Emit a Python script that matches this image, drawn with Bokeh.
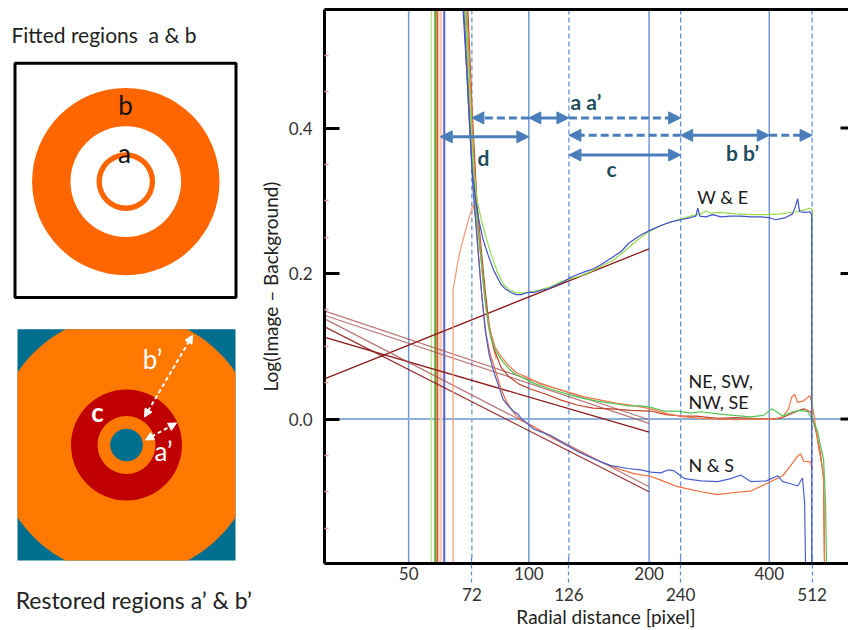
import numpy as np
from bokeh.plotting import figure
from bokeh.layouts import row
from bokeh.models import (Range1d, LogAxis, LinearAxis, FixedTicker, PrintfTickFormatter, Span, Arrow,
                          NormalHead)
from bokeh.core.properties import value
from bokeh.embed import file_html
from bokeh.resources import INLINE

FONT = "Lato"

# ---------------- axis data ----------------
x_ticks_upper = [50, 100, 200, 400]
x_ticks_lower = [72, 126, 240, 512]
y_ticks = [0.0, 0.2, 0.4]
y_minor = [-0.15, -0.1, -0.05, 0.05, 0.1, 0.15, 0.25, 0.3, 0.35, 0.45, 0.5]
solid_bounds = [50, 100, 200, 400]
dashed_bounds = [72, 126, 240, 512]
X_START, X_END = 30.78, 631.6
Y_START, Y_END = -0.1986, 0.563

# ---------------- profiles: (radial distance [pixel], Log(Image - Background)) ----------------
we_blue = [(68.1, 0.582), (70.1, 0.466), (72.1, 0.342), (73.8, 0.295), (75.1, 0.271), (76.8, 0.247),
           (79.0, 0.226), (81.7, 0.204), (85.2, 0.185), (87.7, 0.178), (90.3, 0.174), (92.9, 0.171),
           (95.6, 0.171), (99.5, 0.174), (103.0, 0.174), (107.3, 0.177), (111.8, 0.179), (117.0, 0.184),
           (122.5, 0.189), (127.5, 0.195), (132.8, 0.199), (139.0, 0.203), (145.6, 0.207), (151.5, 0.212),
           (160.5, 0.221), (170.0, 0.230), (178.1, 0.242), (190.8, 0.253), (202.1, 0.260), (214.1, 0.266),
           (226.8, 0.271), (240.2, 0.274), (254.4, 0.277), (261.9, 0.279), (264.9, 0.290), (268.0, 0.279),
           (277.4, 0.278), (288.8, 0.281), (302.4, 0.278), (320.3, 0.279), (339.3, 0.279), (359.4, 0.278),
           (380.7, 0.278), (398.4, 0.277), (415.0, 0.274), (439.6, 0.277), (457.6, 0.282), (465.6, 0.293),
           (471.1, 0.303), (476.5, 0.285), (493.2, 0.284), (504.7, 0.285), (511.0, 0.281), (511.0, -0.205)]
we_green = [(68.9, 0.582), (70.9, 0.466), (72.5, 0.349), (74.2, 0.301), (76.0, 0.274), (78.2, 0.249),
            (80.5, 0.226), (83.3, 0.203), (86.2, 0.186), (89.2, 0.178), (92.4, 0.174), (95.6, 0.173),
            (101.3, 0.175), (107.3, 0.178), (113.7, 0.182), (120.4, 0.189), (127.5, 0.193), (135.1, 0.197),
            (143.1, 0.203), (151.5, 0.210), (162.4, 0.218), (172.0, 0.229), (182.2, 0.241), (196.4, 0.255),
            (214.1, 0.266), (233.4, 0.273), (254.4, 0.279), (269.5, 0.282), (278.0, 0.286), (285.5, 0.283),
            (302.4, 0.284), (329.7, 0.282), (359.4, 0.281), (391.8, 0.281), (427.1, 0.282), (465.6, 0.285),
            (493.2, 0.288), (504.7, 0.290), (512.0, 0.288), (512.0, 0.0)]
ne_green = [(69.3, 0.582), (71.3, 0.438), (73.4, 0.301), (75.1, 0.247), (76.4, 0.205), (77.7, 0.164),
            (79.1, 0.130), (80.5, 0.110), (82.8, 0.093), (85.2, 0.082), (88.8, 0.070), (91.8, 0.063),
            (95.6, 0.058), (103.0, 0.049), (113.7, 0.041), (125.3, 0.034), (135.1, 0.029), (147.3, 0.025),
            (160.5, 0.022), (177.0, 0.018), (190.8, 0.018), (202.1, 0.016), (217.8, 0.011), (236.0, 0.011),
            (254.4, 0.008), (269.5, 0.010), (297.2, 0.007), (325.9, 0.005), (359.4, 0.003), (387.3, 0.005),
            (405.6, 0.014), (417.4, 0.010), (432.0, 0.004), (458.1, 0.010), (479.2, 0.012), (499.1, 0.010),
            (511.5, 0.000), (527.7, -0.016), (537.7, -0.037), (547.0, -0.055), (553.4, -0.116), (556.6, -0.205)]
ne_orange = [(69.7, 0.582), (71.7, 0.438), (73.8, 0.295), (75.5, 0.240), (76.8, 0.192), (78.2, 0.151),
             (80.0, 0.121), (82.3, 0.099), (85.2, 0.086), (88.8, 0.074), (92.9, 0.064), (98.4, 0.058),
             (107.3, 0.048), (117.0, 0.042), (127.5, 0.036), (139.0, 0.030), (151.5, 0.026), (165.2, 0.022),
             (180.1, 0.019), (202.1, 0.014), (222.9, 0.007), (244.4, 0.003), (269.5, 0.001), (297.2, 0.000),
             (329.7, -0.001), (359.4, 0.000), (412.6, 0.000), (432.0, 0.003), (447.2, 0.014), (455.1, 0.030),
             (463.0, 0.034), (471.1, 0.023), (487.6, 0.025), (504.7, 0.032), (511.5, 0.023), (519.4, 0.000),
             (530.7, -0.037), (543.9, -0.068), (547.0, -0.082), (550.2, -0.205)]
ne_red = [(70.1, 0.582), (72.1, 0.425), (74.2, 0.295), (76.0, 0.233), (77.7, 0.178), (79.5, 0.130),
          (81.8, 0.096), (85.2, 0.071), (89.2, 0.058), (94.5, 0.048), (101.3, 0.041), (110.4, 0.034),
          (120.4, 0.026), (132.7, 0.019), (144.8, 0.015), (160.5, 0.014), (180.1, 0.012), (202.1, 0.011),
          (220.0, 0.006), (244.4, 0.004), (262.0, 0.004), (297.2, 0.001), (330.0, 0.002), (359.4, 0.001),
          (395.0, 0.000), (427.1, 0.001), (471.1, 0.011), (487.6, 0.014), (507.6, 0.010), (522.4, -0.014),
          (537.7, -0.048), (547.0, -0.082), (550.2, -0.205)]
ns_blue = [(68.5, 0.582), (70.5, 0.438), (72.5, 0.315), (74.2, 0.247), (76.0, 0.178), (77.7, 0.123),
           (79.5, 0.089), (81.8, 0.064), (83.7, 0.048), (86.2, 0.027), (88.8, 0.018), (91.3, 0.011),
           (93.9, 0.007), (95.6, 0.001), (99.5, -0.007), (103.0, -0.014), (113.7, -0.023), (125.3, -0.037),
           (132.8, -0.045), (145.6, -0.055), (160.5, -0.064), (177.0, -0.068), (190.8, -0.070), (202.1, -0.073),
           (214.1, -0.074), (222.9, -0.070), (230.6, -0.071), (245.7, -0.082), (269.5, -0.085), (297.2, -0.086),
           (320.3, -0.082), (339.3, -0.077), (359.4, -0.086), (393.5, -0.085), (419.8, -0.078), (432.0, -0.086),
           (452.4, -0.089), (471.1, -0.092), (484.5, -0.081), (490.4, -0.116), (493.2, -0.205)]
ns_orange = [(68.9, 0.582), (70.9, 0.438), (73.0, 0.301), (74.6, 0.233), (76.4, 0.164), (78.2, 0.116),
             (80.0, 0.089), (81.8, 0.073), (85.2, 0.041), (87.7, 0.025), (90.3, 0.014), (92.9, 0.005),
             (95.6, -0.001), (103.0, -0.011), (113.7, -0.025), (125.3, -0.037), (139.0, -0.049), (151.5, -0.059),
             (166.7, -0.068), (183.3, -0.075), (202.1, -0.079), (214.1, -0.084), (235.9, -0.093), (269.5, -0.100),
             (297.2, -0.104), (325.9, -0.101), (359.4, -0.099), (393.5, -0.089), (432.0, -0.078), (452.4, -0.064),
             (471.1, -0.051), (479.2, -0.048), (487.6, -0.058), (507.6, -0.059), (511.5, -0.068)]
salmon_peak = [(64.6, -0.205), (64.6, 0.178), (66.9, 0.226), (69.7, 0.263), (72.5, 0.295), (74.2, 0.267),
               (76.0, 0.216), (77.7, 0.164), (79.5, 0.123), (82.8, 0.082)]

# off-scale profiles near the centre (vertical traces)
spike_r = [57.0, 58.3, 59.0, 60.2, 61.4]
spike_y = [-0.25, 0.62]

# power-law fits (straight in log r), from r = 31 to r = 200
fit_r = [31, 200]
fit_rise = [0.056, 0.234]
fit_ne1 = [0.148, -0.001]
fit_ne2 = [0.142, -0.006]
fit_ne3 = [0.112, -0.018]
fit_ns1 = [0.137, -0.093]
fit_ns2 = [0.126, -0.100]

# region arrows: start r, end r, level, dashed, double-headed
arrow_r0 = [60, 100, 100, 126, 240, 240, 400, 126]
arrow_r1 = [100, 72, 126, 240, 126, 400, 512, 240]
arrow_y = [0.388, 0.414, 0.414, 0.414, 0.390, 0.390, 0.390, 0.363]
arrow_dashed = [False, True, False, True, True, False, True, False]
arrow_both = [True, False, True, False, False, True, False, True]
region_text = ["d", "a a\u2019", "c", "b b\u2019"]
region_r = [77, 139, 161, 343]
region_y = [0.360, 0.437, 0.345, 0.366]

curve_text = ["W & E", "NE, SW,", "NW, SE", "N & S"]
curve_r = [306, 251, 251, 251]
curve_y = [0.305, 0.052, 0.023, -0.063]

# ---------------- schematic (left), in page pixels ----------------
fitted_box = dict(x=125, y=180.5, w=221, h=235)
fitted_center = (125.3, 181.7)
fitted_inner = [24.0, 55.3]
fitted_outer = [29.3, 93.7]
restored_box = dict(x=126, y=446, w=218, h=232)
restored_center = (126, 446)
restored_outer_r = 131
restored_radii = [55.5, 29, 16.3]
restored_colors = ["#C00000", "#FF7800", "#006E8E"]

LEFT_W = 255
TOP_B, BOTTOM_B = 9, 65
H = 630

# ================= left figure =================
left = figure(width=LEFT_W, height=H, x_range=Range1d(0, LEFT_W), y_range=Range1d(H - BOTTOM_B, TOP_B),
              toolbar_location=None, output_backend="svg", title=None,
              min_border_left=0, min_border_right=0, min_border_top=TOP_B, min_border_bottom=BOTTOM_B,
              x_axis_location=None, y_axis_location=None)
left.grid.visible = False
left.outline_line_color = None

left.text(x=[11], y=[34], text=["Fitted regions\u00a0 a & b"], text_font=value(FONT),
          text_font_size="21px", text_color="#222222", text_baseline="middle")
left.rect(x=[fitted_box["x"]], y=[fitted_box["y"]], width=[fitted_box["w"]], height=[fitted_box["h"]],
          fill_color=None, line_color="black", line_width=3)
left.annulus(x=[fitted_center[0]] * 2, y=[fitted_center[1]] * 2, inner_radius=fitted_inner,
             outer_radius=fitted_outer, fill_color="#FF6600", line_color=None)
left.text(x=[125, 124], y=[105, 153], text=["b", "a"], text_font=value(FONT), text_font_size="26px",
          text_color="#111111", text_align="center", text_baseline="middle")

bx0 = restored_box["x"] - restored_box["w"] / 2
bx1 = restored_box["x"] + restored_box["w"] / 2
by0 = restored_box["y"] - restored_box["h"] / 2
by1 = restored_box["y"] + restored_box["h"] / 2
left.rect(x=[restored_box["x"]], y=[restored_box["y"]], width=[restored_box["w"]],
          height=[restored_box["h"]], fill_color="#006E8E", line_color=None)
# large disc limited to the square (outline of disc clamped to the box)
t = np.linspace(0, 2 * np.pi, 721)
disc_x = np.clip(restored_center[0] + restored_outer_r * np.cos(t), bx0, bx1)
disc_y = np.clip(restored_center[1] + restored_outer_r * np.sin(t), by0, by1)
left.patch(disc_x, disc_y, fill_color="#FF7800", line_color=None)
left.circle(x=[restored_center[0]] * 3, y=[restored_center[1]] * 3, radius=restored_radii,
            fill_color=restored_colors, line_color=None)
for (xs, ys, xe, ye) in [(144, 418, 192, 336), (145, 441, 176, 424)]:
    left.add_layout(Arrow(start=NormalHead(size=8, fill_color="white", line_color="white"),
                          end=NormalHead(size=8, fill_color="white", line_color="white"),
                          x_start=xs, y_start=ys, x_end=xe, y_end=ye,
                          line_color="white", line_width=2, line_dash="4 3"))
left.text(x=[152, 163], y=[360, 452], text=["b\u2019", "a\u2019"], text_font=value(FONT),
          text_font_size="26px", text_color="white", text_align="center", text_baseline="middle")
left.text(x=[97], y=[413], text=["c"], text_font=value(FONT), text_font_size="26px",
          text_font_style="bold", text_color="white", text_align="center", text_baseline="middle")
caption_ax = LinearAxis(ticker=FixedTicker(ticks=[]), axis_line_color=None, major_tick_in=0,
                        major_tick_out=0, minor_tick_in=0, minor_tick_out=0, major_label_standoff=0,
                        axis_label="\u00a0\u00a0Restored regions a\u2019 & b\u2019", axis_label_standoff=22,
                        axis_label_text_font=FONT, axis_label_text_font_size="23px",
                        axis_label_text_font_style="normal", axis_label_text_color="#222222")
left.add_layout(caption_ax, "below")

# ================= right figure =================
p = figure(width=848 - LEFT_W, height=H, x_axis_type="log",
           x_range=Range1d(X_START, X_END), y_range=Range1d(Y_START, Y_END),
           toolbar_location=None, output_backend="svg", title=None,
           min_border_left=68, min_border_right=0, min_border_top=TOP_B, min_border_bottom=BOTTOM_B)
p.grid.visible = False
p.outline_line_color = None

for v in solid_bounds:
    p.add_layout(Span(location=v, dimension="height", line_color="#7199d4", line_width=1.5,
                      level="underlay"))
for v in dashed_bounds:
    p.add_layout(Span(location=v, dimension="height", line_color="#5b8bd4", line_width=1.2,
                      line_dash="5 3", level="underlay"))
p.add_layout(Span(location=0, dimension="width", line_color="#8fb0de", line_width=2, level="underlay"))

spike_colors = ["#bde48f", "#5aa832", "#d9602a", "#f8cbbd", "#5563cc"]
spike_widths = [1.5, 2, 2, 3, 2]
for r, c, w in zip(spike_r, spike_colors, spike_widths):
    p.line([r, r], spike_y, line_color=c, line_width=w)

fit_styles = [(fit_rise, "#8b1a1a", 1.3, 1.0), (fit_ne1, "#a85555", 1.2, 0.8),
              (fit_ne2, "#a85555", 1.2, 0.8), (fit_ne3, "#8b1a1a", 1.4, 1.0),
              (fit_ns1, "#a85555", 1.2, 0.8), (fit_ns2, "#8b1a1a", 1.2, 0.9)]
for ys, c, w, a in fit_styles:
    p.line(fit_r, ys, line_color=c, line_width=w, line_alpha=a)

curves = [(salmon_peak, "#f4a07e", 1.3), (ns_orange, "#f06a3c", 1.2), (ns_blue, "#4a5fcf", 1.2),
          (ne_red, "#c0442a", 1.2), (ne_orange, "#f27a4a", 1.2), (ne_green, "#54c454", 1.2),
          (we_green, "#96dc4e", 1.2), (we_blue, "#4150cc", 1.2)]
for pts, c, w in curves:
    p.line([q[0] for q in pts], [q[1] for q in pts], line_color=c, line_width=w)

ARROW_C = "#4a7ebb"
for r0, r1, y, dashed, both in zip(arrow_r0, arrow_r1, arrow_y, arrow_dashed, arrow_both):
    p.add_layout(Arrow(start=NormalHead(size=12, fill_color=ARROW_C, line_color=ARROW_C) if both else None,
                       end=NormalHead(size=12, fill_color=ARROW_C, line_color=ARROW_C),
                       x_start=r0, y_start=y, x_end=r1, y_end=y, line_color=ARROW_C,
                       line_width=3, line_dash="8 4" if dashed else "solid"))
p.text(x=region_r, y=region_y, text=region_text, text_font=value(FONT), text_font_size="21px",
       text_font_style="bold", text_color="#1f4e5f", text_align="center", text_baseline="middle")
p.text(x=curve_r[:1], y=curve_y[:1], text=curve_text[:1], text_font=value(FONT), text_font_size="18px",
       text_color="#1a1a1a", text_align="center", text_baseline="middle")
p.text(x=curve_r[1:], y=curve_y[1:], text=curve_text[1:], text_font=value(FONT), text_font_size="18px",
       text_color="#1a1a1a", text_align="left", text_baseline="middle")

# right-hand tick marks (frame edge cuts them in half)
p.scatter(x=[X_END] * len(y_ticks), y=y_ticks, marker="dash", size=16, line_color="black", line_width=3)

# axes
ax1 = p.xaxis[0]
ax1.ticker = FixedTicker(ticks=x_ticks_upper)
ax1.formatter = PrintfTickFormatter(format="%d")
ax1.axis_line_width = 3
ax1.axis_line_color = "black"
ax1.major_tick_in = 0
ax1.major_tick_out = 0
ax1.minor_tick_in = 0
ax1.minor_tick_out = 0
ax1.major_label_standoff = 3
ax1.major_label_text_font = FONT
ax1.major_label_text_font_size = "17px"
ax1.major_label_text_color = "#333333"

ax2 = LogAxis(ticker=FixedTicker(ticks=x_ticks_lower), formatter=PrintfTickFormatter(format="%d"),
              axis_line_color=None, major_tick_in=25, major_tick_out=0,
              major_tick_line_color="#5b8bd4", major_tick_line_dash="4 3", major_tick_line_width=1.2,
              minor_tick_in=0, minor_tick_out=0, major_label_standoff=5,
              major_label_text_font=FONT, major_label_text_font_size="17px",
              major_label_text_color="#333333",
              axis_label="\u00a0" * 8 + "Radial distance [pixel]", axis_label_standoff=1,
              axis_label_text_font=FONT, axis_label_text_font_size="19px",
              axis_label_text_font_style="normal", axis_label_text_color="#222222")
p.add_layout(ax2, "below")

ay = p.yaxis[0]
ay.ticker = FixedTicker(ticks=y_ticks, minor_ticks=y_minor)
ay.formatter = PrintfTickFormatter(format="%.1f")
ay.axis_line_width = 3
ay.axis_line_color = "black"
ay.major_tick_in = 15
ay.major_tick_out = 0
ay.major_tick_line_width = 3
ay.minor_tick_in = 4
ay.minor_tick_out = 0
ay.minor_tick_line_color = "#d8a0a0"
ay.minor_tick_line_width = 1.5
ay.major_label_standoff = 12
ay.major_label_text_font = FONT
ay.major_label_text_font_size = "17px"
ay.major_label_text_color = "#333333"
ay.axis_label = "Log(Image \u2013 Background)"
ay.axis_label_standoff = 4
ay.axis_label_text_font = FONT
ay.axis_label_text_font_size = "19px"
ay.axis_label_text_font_style = "normal"
ay.axis_label_text_color = "#222222"

top_ax = LogAxis(ticker=FixedTicker(ticks=[]), major_label_standoff=0, major_tick_in=0, major_tick_out=0,
                 minor_tick_in=0, minor_tick_out=0, axis_line_width=3, axis_line_color="black")
p.add_layout(top_ax, "above")

layout = row(left, p)
open("out.html", "w").write(file_html(layout, INLINE))
